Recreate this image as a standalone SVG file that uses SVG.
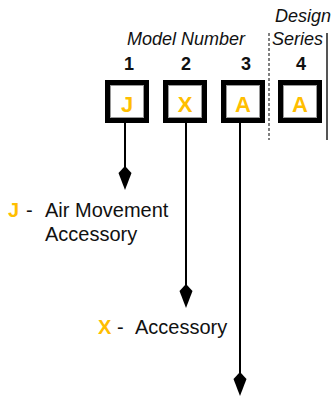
<svg xmlns="http://www.w3.org/2000/svg" width="333" height="398" viewBox="0 0 333 398">
<style>
  .t { font-family: "Liberation Sans", Arial, sans-serif; fill: #111; }
  .it { font-style: italic; font-size: 18px; }
  .num { font-weight: bold; font-size: 18px; text-anchor: middle; }
  .lg { font-size: 20px; }
  .code { font-family: "Liberation Sans", Arial, sans-serif; font-weight: bold; font-size: 20px; fill: #FFBE00; }
  .bc { font-size: 22px; text-anchor: middle; }
  .boxo { fill: #fff; stroke: #000; stroke-width: 5; }
  .boxi { fill: none; stroke: #9a9a9a; stroke-width: 1; }
  .conn { stroke: #000; stroke-width: 2; fill: none; }
</style>
<defs>
  <marker id="arr" markerUnits="userSpaceOnUse" markerWidth="24" markerHeight="14" viewBox="0 0 24 14" refX="12" refY="7" orient="auto">
    <path d="M24,7 L7,0.5 L0,7 L7,13.5 Z" fill="#000"/>
  </marker>
</defs>
<rect width="333" height="398" fill="#fff"/>

<g id="headers">
  <text class="t it" x="127" y="45">Model Number</text>
  <text class="t it" x="275" y="22">Design</text>
  <text class="t it" x="272" y="45">Series</text>
  <text class="t num" x="129" y="70">1</text>
  <text class="t num" x="186" y="70">2</text>
  <text class="t num" x="246" y="70">3</text>
  <text class="t num" x="301" y="70">4</text>
  <line x1="269" y1="33" x2="269" y2="140" stroke="#000" stroke-width="1" stroke-dasharray="3,2"/>
  <line x1="327" y1="33" x2="327" y2="140" stroke="#555" stroke-width="2"/>
</g>

<g id="box1">
  <rect class="boxo" x="107.5" y="82.5" width="39" height="38"/>
  <rect class="boxi" x="110.5" y="85.5" width="33" height="32"/>
  <text class="code bc" x="127" y="112">J</text>
</g>
<g id="box2">
  <rect class="boxo" x="165.5" y="82.5" width="39" height="38"/>
  <rect class="boxi" x="168.5" y="85.5" width="33" height="32"/>
  <text class="code bc" x="185" y="112">X</text>
</g>
<g id="box3">
  <rect class="boxo" x="223.5" y="82.5" width="39" height="38"/>
  <rect class="boxi" x="226.5" y="85.5" width="33" height="32"/>
  <text class="code bc" x="243" y="112">A</text>
</g>
<g id="box4">
  <rect class="boxo" x="280.5" y="82.5" width="39" height="38"/>
  <rect class="boxi" x="283.5" y="85.5" width="33" height="32"/>
  <text class="code bc" x="300" y="112">A</text>
</g>

<g id="connectors">
  <line class="conn" x1="125" y1="123" x2="125" y2="178" marker-end="url(#arr)"/>
  <line class="conn" x1="186" y1="123" x2="186" y2="296" marker-end="url(#arr)"/>
  <line class="conn" x1="240" y1="123" x2="240" y2="384" marker-end="url(#arr)"/>
</g>

<g id="legendJ">
  <text class="code" x="8" y="217">J</text>
  <text class="t lg" x="26" y="217">-</text>
  <text class="t lg" x="45" y="217">Air Movement</text>
  <text class="t lg" x="45" y="241">Accessory</text>
</g>
<g id="legendX">
  <text class="code" x="98" y="334">X</text>
  <text class="t lg" x="117" y="334">-</text>
  <text class="t lg" x="135" y="334">Accessory</text>
</g>
</svg>
